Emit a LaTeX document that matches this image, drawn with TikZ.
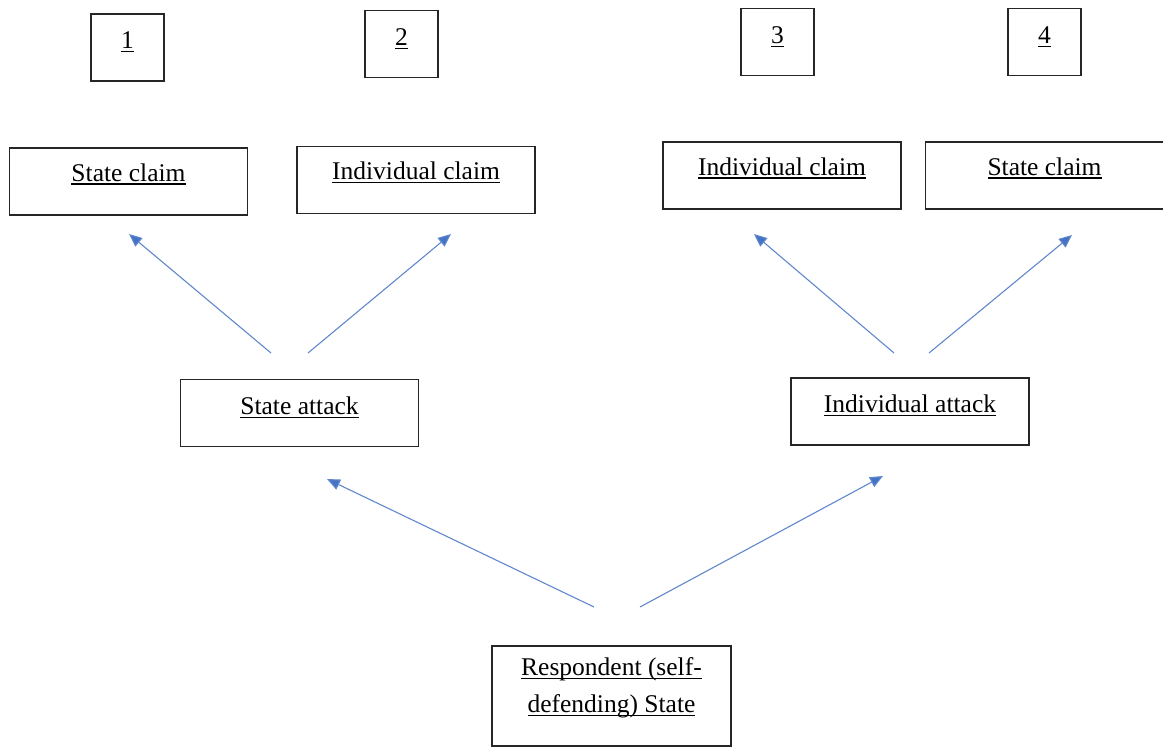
\documentclass[tikz,border=0pt]{standalone}
\usepackage{fontspec}
\setmainfont{Liberation Serif}
\usetikzlibrary{arrows.meta}
\definecolor{arrowblue}{HTML}{4472C4}
\newlength\myulw
\newcommand\myul[1]{\settowidth\myulw{#1}\rlap{\rule[-3.5pt]{\myulw}{1.1pt}}#1}
\begin{document}
\begin{tikzpicture}[x=1pt,y=-1pt,
  box/.style={draw=black!85, line width=1.2pt, rectangle, inner sep=0pt},
  numbox/.style={box, minimum width=73pt, minimum height=67pt},
  widebox/.style={box, minimum width=238pt, minimum height=67pt},
  lbl/.style={font=\fontsize{25.5}{37}\selectfont, align=center, inner sep=0pt},
  conn/.style={draw=arrowblue!85, line width=1.1pt, -{Triangle[length=13pt,width=11pt,fill=arrowblue]}}]
\useasboundingbox (0,0) rectangle (1163,747);
% number boxes
\node[numbox, label={[lbl, yshift=5.5pt]center:\myul{1}}] (n1) at (127.5,47.5) {};
\node[numbox, label={[lbl, yshift=5.5pt]center:\myul{2}}] (n2) at (401.5,44) {};
\node[numbox, label={[lbl, yshift=5.5pt]center:\myul{3}}] (n3) at (777.5,42) {};
\node[numbox, label={[lbl, yshift=5.5pt]center:\myul{4}}] (n4) at (1044.5,42) {};
% claim boxes
\node[widebox, label={[lbl, yshift=7.5pt]center:\myul{State claim}}] (sc1) at (128.5,181.5) {};
\node[widebox, label={[lbl, yshift=7.5pt]center:\myul{Individual claim}}] (ic1) at (416,180) {};
\node[widebox, label={[lbl, yshift=7.5pt]center:\myul{Individual claim}}] (ic2) at (782,175.5) {};
\node[widebox, label={[lbl, yshift=7.5pt]center:\myul{State claim}}] (sc2) at (1044.5,175.5) {};
% attack boxes
\node[widebox, label={[lbl, yshift=6pt]center:\myul{State attack}}] (sa) at (299.5,413) {};
\node[widebox, label={[lbl, yshift=6pt]center:\myul{Individual attack}}] (ia) at (910,411.5) {};
% respondent
\node[box, minimum width=239pt, minimum height=100pt,
  label={[lbl, yshift=8pt]center:\myul{Respondent (self-}\\\myul{defending) State}}] (resp) at (611.5,696) {};
% arrow end points
\coordinate (a1s) at (271,353); \coordinate (a1e) at (129,234);
\coordinate (a2s) at (308,353); \coordinate (a2e) at (451,234);
\coordinate (a3s) at (894,353); \coordinate (a3e) at (754,234);
\coordinate (a4s) at (929,353); \coordinate (a4e) at (1072,235);
\coordinate (a5s) at (594,607); \coordinate (a5e) at (327,479);
\coordinate (a6s) at (640,607); \coordinate (a6e) at (883,476);
\draw[conn] (a1s) -- (a1e);
\draw[conn] (a2s) -- (a2e);
\draw[conn] (a3s) -- (a3e);
\draw[conn] (a4s) -- (a4e);
\draw[conn] (a5s) -- (a5e);
\draw[conn] (a6s) -- (a6e);
\end{tikzpicture}
\end{document}
